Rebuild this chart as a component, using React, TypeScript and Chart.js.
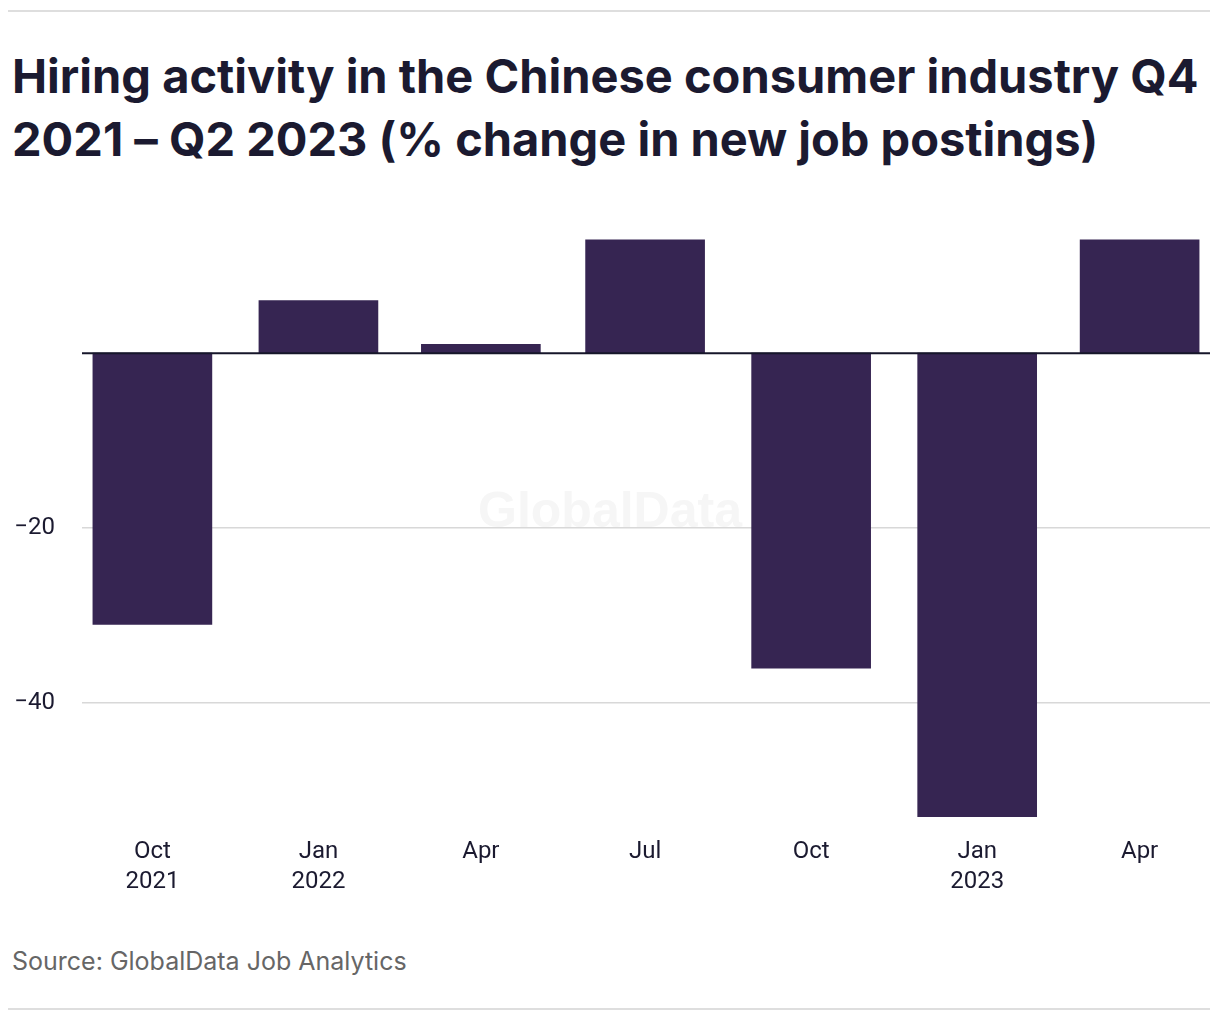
import React, { useEffect, useRef } from "react";
import { Chart, registerables } from "chart.js";

Chart.register(...registerables);

// ---- data ----
const periodDates = [
  "2021-10-01",
  "2022-01-01",
  "2022-04-01",
  "2022-07-01",
  "2022-10-01",
  "2023-01-01",
  "2023-04-01",
];
const tickLabels: string[][] = [
  ["Oct", "2021"],
  ["Jan", "2022"],
  ["Apr"],
  ["Jul"],
  ["Oct"],
  ["Jan", "2023"],
  ["Apr"],
];
const changeValues = [-31, 6, 1, 13, -36, -53, 13];
const yTickValues = [-40, -20];
const yMin = -53;
const yMax = 13;

const titleText = "Hiring activity in the Chinese consumer industry Q4";
const titleText2 = "2021 – Q2 2023 (% change in new job postings)";
const sourceText = "Source: GlobalData Job Analytics";
const watermarkText = "GlobalData";

const DAY = 86400000;
const dayOffset = (s: string) => (Date.parse(s) - Date.parse(periodDates[0])) / DAY;
const xValues = periodDates.map(dayOffset);

const BAR_COLOR = "#362552";
const TEXT_COLOR = "#1b1a30";
const TICK_FONT = "Roboto, 'Noto Sans', sans-serif";
const TEXT_FONT = "Inter, Roboto, sans-serif";

export default function App() {
  const canvasRef = useRef<HTMLCanvasElement | null>(null);

  useEffect(() => {
    const canvas = canvasRef.current;
    if (!canvas) return;

    const watermark = {
      id: "watermark",
      beforeDraw(chart: any) {
        const ctx = chart.ctx;
        ctx.save();
        ctx.font = "bold 50px 'Liberation Sans', Arial, sans-serif";
        ctx.fillStyle = "#f6f6f6";
        ctx.textAlign = "center";
        ctx.textBaseline = "alphabetic";
        ctx.fillText(watermarkText, 602, 329);
        ctx.restore();
      },
    };

    const zeroLine = {
      id: "zeroLine",
      afterDatasetsDraw(chart: any) {
        const { ctx, chartArea } = chart;
        const y = chart.scales.y.getPixelForValue(0);
        ctx.save();
        ctx.strokeStyle = "#16162a";
        ctx.lineWidth = 2;
        ctx.beginPath();
        ctx.moveTo(chartArea.left, y);
        ctx.lineTo(chartArea.right, y);
        ctx.stroke();
        ctx.restore();
      },
    };

    const chart = new Chart(canvas, {
      type: "bar",
      data: {
        datasets: [
          {
            data: xValues.map((x, i) => ({ x, y: changeValues[i] })),
            backgroundColor: BAR_COLOR,
            borderWidth: 0,
            barThickness: 119,
          },
        ],
      },
      plugins: [watermark, zeroLine],
      options: {
        responsive: false,
        animation: false,
        layout: { padding: { top: 20, right: 2, bottom: 0, left: 0 } },
        plugins: {
          legend: { display: false },
          tooltip: { enabled: false },
        },
        scales: {
          x: {
            type: "linear",
            min: -39,
            max: 586,
            offset: false,
            grid: { display: false, offset: false },
            border: { display: false },
            afterBuildTicks: (scale: any) => {
              scale.ticks = xValues.map((v) => ({ value: v }));
            },
            afterFit: (scale: any) => {
              scale.height = 93;
            },
            ticks: {
              autoSkip: false,
              maxRotation: 0,
              padding: 12,
              color: TEXT_COLOR,
              font: { family: TICK_FONT, size: 24, lineHeight: 1.25 },
              callback: (_v: any, i: number) => tickLabels[i],
            },
          },
          y: {
            type: "linear",
            min: yMin,
            max: yMax,
            grid: {
              drawTicks: false,
              color: "#d8d8d8",
              lineWidth: 1.5,
            },
            border: { display: false },
            afterBuildTicks: (scale: any) => {
              scale.ticks = yTickValues.map((v) => ({ value: v }));
            },
            afterFit: (scale: any) => {
              scale.width = 74;
            },
            ticks: {
              padding: 27,
              color: TEXT_COLOR,
              font: { family: TICK_FONT, size: 24 },
              callback: (v: any) => (v < 0 ? "\u2212" + Math.abs(v) : String(v)),
            },
          },
        },
      } as any,
    });

    return () => chart.destroy();
  }, []);

  return (
    <div style={{ position: "relative", width: 1204, height: 1004, fontFamily: TEXT_FONT }}>
      <div
        style={{
          position: "absolute",
          left: 0,
          top: 2,
          width: 1202,
          height: 2,
          background: "#dedede",
        }}
      />
      <div
        style={{
          position: "absolute",
          left: 4,
          top: 36,
          fontSize: 47,
          fontWeight: 700,
          lineHeight: "63px",
          color: TEXT_COLOR,
          whiteSpace: "nowrap",
          fontFeatureSettings: "'calt' 0",
        }}
      >
        <div>{titleText}</div>
        <div>{titleText2}</div>
      </div>
      <canvas
        ref={canvasRef}
        width={1204}
        height={712}
        style={{ position: "absolute", left: 0, top: 190, width: 1204, height: 712 }}
      />
      <div
        style={{
          position: "absolute",
          left: 4,
          top: 941,
          fontSize: 25,
          lineHeight: "25px",
          color: "#666666",
          whiteSpace: "nowrap",
        }}
      >
        {sourceText}
      </div>
      <div
        style={{
          position: "absolute",
          left: 0,
          top: 1000,
          width: 1202,
          height: 2,
          background: "#dedede",
        }}
      />
    </div>
  );
}
